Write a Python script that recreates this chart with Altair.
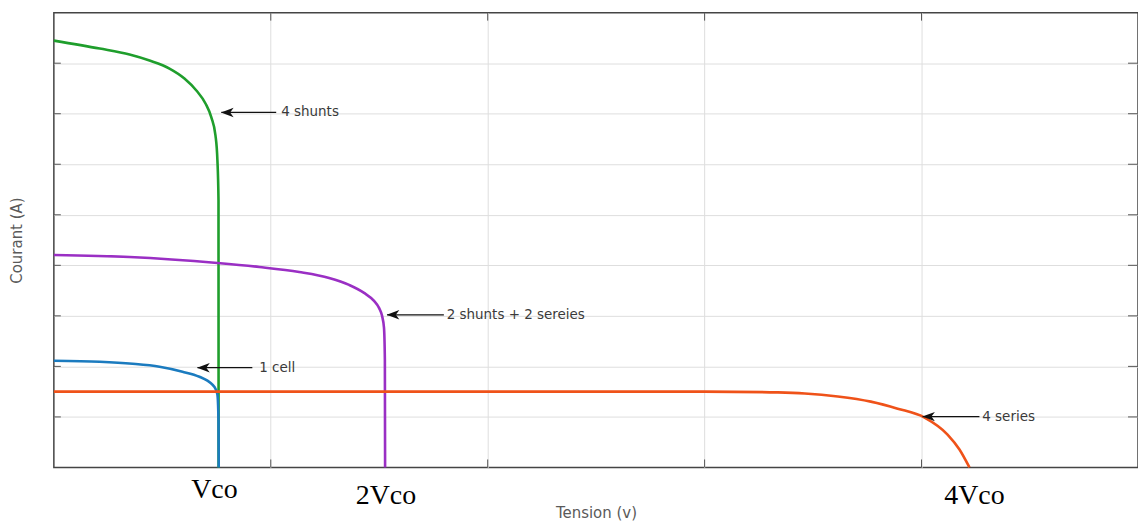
import altair as alt
import pandas as pd

# ---- data (grid units: x one grid step per unit, y one grid step per unit) ----
green_x = [0, 0.2115, 0.349, 0.441, 0.533, 0.602, 0.657, 0.699, 0.726, 0.745, 0.754, 0.759, 0.7595]
green_y = [8.447, 8.289, 8.171, 8.052, 7.894, 7.697, 7.460, 7.203, 6.927, 6.572, 6.079, 5.289, 0]

purple_x = [0, 0.349, 0.754, 0.947, 1.131, 1.269, 1.361, 1.430, 1.476, 1.499, 1.513, 1.522, 1.526, 1.527]
purple_y = [4.204, 4.164, 4.046, 3.967, 3.868, 3.750, 3.612, 3.454, 3.296, 3.158, 3.0, 2.763, 2.131, 0]

blue_x = [0, 0.2115, 0.363, 0.487, 0.593, 0.671, 0.708, 0.731, 0.745, 0.754, 0.759, 0.760]
blue_y = [2.112, 2.092, 2.052, 1.993, 1.895, 1.796, 1.717, 1.638, 1.559, 1.441, 0.947, 0]

orange_x = [0, 1.5, 2.998, 3.338, 3.462, 3.614, 3.766, 3.890, 4.014, 4.120, 4.175, 4.221]
orange_y = [1.5, 1.5, 1.5, 1.485, 1.465, 1.405, 1.303, 1.164, 0.987, 0.651, 0.355, 0]

ann_text = ["4 shunts", "2 shunts + 2 sereies", "1 cell", "4 series"]
ann_tip_x = [0.772, 1.536, 0.662, 4.005]
ann_end_x = [1.025, 1.798, 0.915, 4.267]
ann_text_x = [1.048, 1.811, 0.947, 4.280]
ann_y = [7.026, 3.02, 1.974, 1.006]

vco_labels = ["Vco", "2Vco", "4Vco"]
vco_x = [0.740, 1.531, 4.244]
vco_y = [-0.454, -0.572, -0.572]

x_grid = [1, 2, 3, 4]
y_grid = [1, 2, 3, 4, 5, 6, 7, 8]

W, H = 1087, 456
xs = alt.Scale(domain=[0, 4.998], nice=False, zero=False)
ys = alt.Scale(domain=[0, 9], nice=False, zero=False)
TICK = "#555555"

X_AXIS = alt.Axis(values=x_grid, grid=True, ticks=False, labels=False, domain=False,
                  title="Tension (v)", titlePadding=38, titleFontSize=15)
Y_AXIS = alt.Axis(values=y_grid, grid=True, ticks=False, labels=False, domain=False,
                  title="Courant (A)", titlePadding=29, titleFontSize=15)


def X(field):
    return alt.X(field, scale=xs, axis=X_AXIS)


def Y(field):
    return alt.Y(field, scale=ys, axis=Y_AXIS)


xg = pd.DataFrame({"v": x_grid})
yg = pd.DataFrame({"v": y_grid})

left_ticks = alt.Chart(yg).mark_rule(color=TICK, strokeWidth=1).encode(
    y=Y("v:Q"), x=alt.value(0), x2=alt.value(7))
right_ticks = alt.Chart(yg).mark_rule(color=TICK, strokeWidth=1).encode(
    y=Y("v:Q"), x=alt.value(W - 10), x2=alt.value(W))
bottom_ticks = alt.Chart(xg).mark_rule(color=TICK, strokeWidth=1).encode(
    x=X("v:Q"), y=alt.value(H), y2=alt.value(H - 8))
top_ticks = alt.Chart(xg).mark_rule(color=TICK, strokeWidth=1).encode(
    x=X("v:Q"), y=alt.value(0), y2=alt.value(8))


def curve(xv, yv, color):
    df = pd.DataFrame({"x": xv, "y": yv, "i": list(range(len(xv)))})
    return alt.Chart(df).mark_line(color=color, strokeWidth=2.6, interpolate="monotone").encode(
        x=X("x:Q"), y=Y("y:Q"), order="i:Q")


green = curve(green_x, green_y, "#1f9e2c")
purple = curve(purple_x, purple_y, "#9a2fc4")
blue = curve(blue_x, blue_y, "#1b7bbf")
orange = curve(orange_x, orange_y, "#ef5219")

ann = pd.DataFrame({"t": ann_text, "tip": ann_tip_x, "end": ann_end_x, "tx": ann_text_x, "y": ann_y})
arrow_lines = alt.Chart(ann).mark_rule(color="#111111", strokeWidth=1.3).encode(
    x=X("tip:Q"), x2="end:Q", y=Y("y:Q"))
arrow_heads = alt.Chart(ann).mark_point(
    shape="M -1 0 L 1 -0.75 L 0.45 0 L 1 0.75 Z", filled=True, color="#111111",
    size=160, opacity=1, xOffset=6).encode(
    x=X("tip:Q"), y=Y("y:Q"))
arrow_text = alt.Chart(ann).mark_text(align="left", baseline="middle", font="DejaVu Sans",
                                      fontSize=13.5, color="#3a3a3a").encode(
    x=X("tx:Q"), y=Y("y:Q"), text="t:N")

vco = pd.DataFrame({"t": vco_labels, "x": vco_x, "y": vco_y})
vco_text = alt.Chart(vco).mark_text(align="center", baseline="middle", font="Liberation Serif",
                                    fontSize=28, color="#000000").encode(
    x=X("x:Q"), y=Y("y:Q"), text="t:N")

chart = alt.layer(
    left_ticks, right_ticks, bottom_ticks, top_ticks,
    green, purple, blue, orange,
    arrow_lines, arrow_heads, arrow_text, vco_text
).properties(
    width=W, height=H,
    background="white",
    autosize=alt.AutoSizeParams(type="none"),
    padding={"left": 54, "top": 12, "right": 0, "bottom": 55},
).configure_view(
    stroke="#444444", strokeWidth=1.5
).configure_axis(
    gridColor="#dedede", gridWidth=1, titleColor="#5a5a5a", titleFont="DejaVu Sans",
    titleFontWeight="normal"
)

chart.save("out.html", embed_options={"renderer": "svg", "actions": False})
